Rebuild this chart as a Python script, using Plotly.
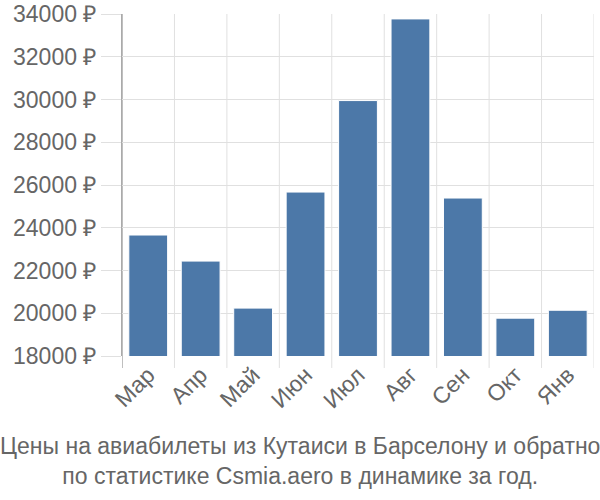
import plotly.graph_objects as go

months = ["Мар", "Апр", "Май", "Июн", "Июл", "Авг", "Сен", "Окт", "Янв"]
prices = [23660, 22440, 20240, 25670, 29950, 33770, 25390, 19770, 20140]
y_ticks = [18000, 20000, 22000, 24000, 26000, 28000, 30000, 32000, 34000]
y_labels = [f"{v} ₽" for v in y_ticks]
title_lines = ["Цены на авиабилеты из Кутаиси в Барселону и обратно",
               "по статистике Csmia.aero в динамике за год."]

fig = go.Figure(go.Bar(
    x=list(range(len(months))), y=prices,
    marker=dict(color="#4c78a8", line=dict(color="#ffffff", width=1)),
    width=0.74,
))

font = "Liberation Sans, Arial, sans-serif"
fig.update_layout(
    width=600, height=500,
    margin=dict(l=122, r=6, t=14, b=144, autoexpand=False),
    plot_bgcolor="white", paper_bgcolor="white",
    showlegend=False,
    font=dict(family=font, size=23, color="#666666"),
    xaxis=dict(
        tickmode="array", tickvals=list(range(len(months))), ticktext=months,
        tickangle=-45, range=[-0.5, len(months) - 0.5],
        showgrid=False, showline=False, ticks="", zeroline=False,
        tickfont=dict(size=23), automargin=False,
    ),
    yaxis=dict(
        range=[18000, 34000], tickmode="array", tickvals=y_ticks, ticktext=y_labels,
        showgrid=True, gridcolor="#e0e0e0", gridwidth=1,
        ticks="outside", ticklen=20, tickcolor="#e0e0e0",
        showline=True, linecolor="#aaaaaa", linewidth=1, zeroline=False,
        tickfont=dict(size=23), automargin=False,
    ),
)

# vertical category-boundary gridlines
for i in range(len(months) + 1):
    fig.add_shape(type="line", xref="x", yref="paper",
                  x0=i - 0.5, x1=i - 0.5, y0=-0.035, y1=1,
                  line=dict(color="#e0e0e0" if i > 0 else "#aaaaaa", width=1 if i > 0 else 1.5),
                  layer="below")

fig.add_annotation(
    text="<br>".join(title_lines), xref="paper", yref="paper",
    x=0.5, xanchor="center", y=-0.22, yanchor="top", showarrow=False,
    font=dict(family=font, size=23, color="#666666"),
    align="center", xshift=-58,
)

fig.write_html("out.html")
